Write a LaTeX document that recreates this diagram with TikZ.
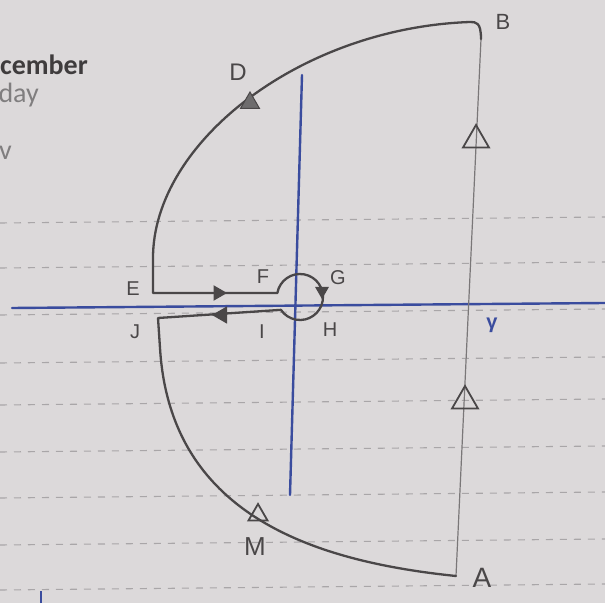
\documentclass[tikz,border=0pt]{standalone}
\usepackage{fontspec}
\setmainfont{Liberation Sans}
\newfontfamily\notefont{Carlito}
\usetikzlibrary{shapes.geometric}
\definecolor{paper}{HTML}{DCD9DA}
\definecolor{pencilc}{HTML}{4A4748}
\definecolor{pencill}{HTML}{7A7778}
\definecolor{penc}{HTML}{3A4C9E}
\definecolor{rulec}{HTML}{A9A6A8}
\begin{document}
\begin{tikzpicture}[x=1pt,y=1pt,
  pencil/.style={draw=pencilc,line width=2.3pt,line join=round,line cap=round},
  thinpencil/.style={draw=pencill,line width=1.2pt,line cap=round},
  axisline/.style={draw=penc,line width=2.4pt,line cap=round},
  ruled/.style={draw=rulec,line width=1.1pt,dash pattern=on 7pt off 7pt},
  lbl/.style={text=pencilc,font=\fontsize{20}{24}\selectfont,inner sep=0pt},
  tri/.style={regular polygon,regular polygon sides=3,draw=pencilc,line width=1.8pt,inner sep=0pt,minimum size=#1},
  tip/.style={regular polygon,regular polygon sides=3,fill=pencilc,draw=pencilc,line width=1pt,inner sep=0pt,minimum size=#1}
]
\fill[paper] (0,0) rectangle (605,603);
\useasboundingbox (0,0) rectangle (605,603);
% notebook ruling
\foreach \yy in {13,58,105,151,198,240,288,335,380}
  \draw[ruled] (0,\yy) -- (605,\yy+6);
% printed notebook text
\node[anchor=base east,inner sep=0pt,text=pencilc!85!black,font=\notefont\bfseries\fontsize{28}{32}\selectfont] (t1) at (88,528) {cember};
\node[anchor=base east,inner sep=0pt,text=pencilc!70,font=\notefont\fontsize{28}{32}\selectfont] (t2) at (39,500) {day};
\node[anchor=base east,inner sep=0pt,text=pencilc!70,font=\notefont\fontsize{28}{32}\selectfont] (t3) at (12,443) {v};
% blue axes
\coordinate (hx0) at (12,295);
\coordinate (hx1) at (605,300);
\coordinate (vy0) at (302,528);
\coordinate (vy1) at (290,108);
\draw[axisline] (hx0) -- (hx1);
\draw[axisline] (vy0) -- (vy1);
\coordinate (tk0) at (41,0);
\coordinate (tk1) at (41,12);
\draw[draw=penc,line width=1.2pt] (tk0) -- (tk1);
% contour points
\coordinate (B) at (481,564);
\coordinate (Btop) at (470,581);
\coordinate (A) at (456,27);
\coordinate (Eu) at (153,345);
\coordinate (E) at (153,310);
\coordinate (F) at (277.35,310);
\coordinate (J) at (158,285);
\coordinate (Jd) at (160,255);
% contour
\draw[thinpencil] (B) -- (A);
\draw[pencil] (B) .. controls (481,581) and (476,581) .. (Btop)
  .. controls (300,575) and (153,460) .. (Eu) -- (E) -- (F)
  arc[start angle=170,end angle=-146,radius=23] -- (J) -- (Jd)
  .. controls (170,90) and (310,42) .. (A);
% direction markers
\node[tri=30] (m1) at (476,463) {};
\node[tri=30] (m2) at (465,202) {};
\node[tip=22,fill=pencilc!80] (m3) at (250,500) {};
\node[tri=22] (m4) at (258,88) {};
\node[tip=16,shape border rotate=-90] (m5) at (218,310) {};
\node[tip=14,shape border rotate=180] (m6) at (322,312) {};
\node[tip=18,shape border rotate=90] (m7) at (222,288) {};
% labels
\node[lbl,font=\fontsize{22}{26}\selectfont] (lB) at (503,581) {B};
\node[lbl,font=\fontsize{24}{28}\selectfont] (lD) at (238,531) {D};
\node[lbl] (lE) at (133,314) {E};
\node[lbl] (lF) at (263,326) {F};
\node[lbl] (lG) at (338,325) {G};
\node[lbl] (lJ) at (135,271) {J};
\node[lbl] (lI) at (262,271) {I};
\node[lbl] (lH) at (330,273) {H};
\node[lbl,font=\fontsize{26}{30}\selectfont] (lM) at (255,56) {M};
\node[lbl,font=\fontsize{28}{32}\selectfont] (lA) at (482,25) {A};
\node[inner sep=0pt,text=penc,font=\bfseries\fontsize{20}{22}\selectfont] (lg) at (492,278) {γ};
\end{tikzpicture}
\end{document}
